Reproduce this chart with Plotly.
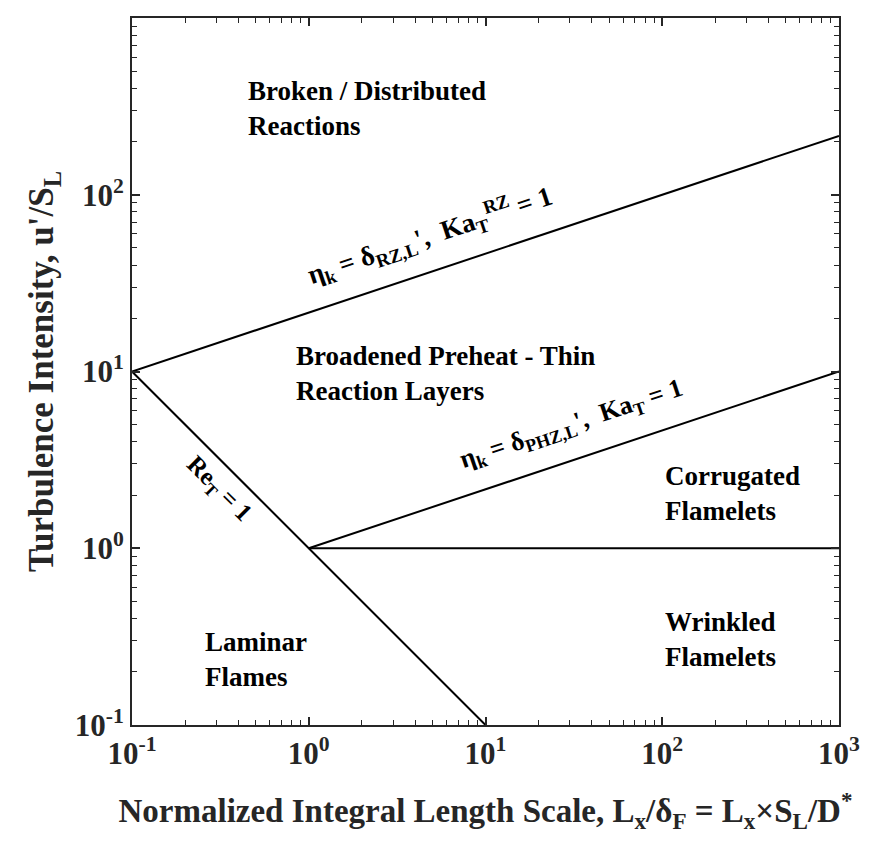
import plotly.graph_objects as go
import math

# Regime boundary lines (x: L_x/delta_F, y: u'/S_L)
re_x = [0.1, 10]
re_y = [10, 0.1]
rz_x = [0.1, 1000]
rz_y = [10, 215.4]
ka_x = [1, 1000]
ka_y = [1, 10]
fl_x = [1, 1000]
fl_y = [1, 1]

tick_vals = [0.1, 1, 10, 100, 1000]
tick_text = ["<b>10<sup>-1</sup></b>", "<b>10<sup>0</sup></b>", "<b>10<sup>1</sup></b>",
             "<b>10<sup>2</sup></b>", "<b>10<sup>3</sup></b>"]

FONT = "Liberation Serif, Times New Roman, serif"
fig = go.Figure()
for xs, ys in [(re_x, re_y), (rz_x, rz_y), (ka_x, ka_y), (fl_x, fl_y)]:
    fig.add_trace(go.Scatter(x=xs, y=ys, mode="lines",
                             line=dict(color="black", width=2), showlegend=False,
                             hoverinfo="skip"))

axis_common = dict(type="log", range=[-1, 3], tickvals=tick_vals, ticktext=tick_text,
                   ticks="inside", ticklen=8, tickwidth=1.5, tickcolor="#262626",
                   showline=True, linecolor="#262626", linewidth=2, mirror="allticks",
                   showgrid=False, zeroline=False,
                   tickfont=dict(family=FONT, size=31, color="#262626"),
                   minor=dict(ticks="inside", ticklen=5, tickwidth=1.2, tickcolor="#262626",
                              dtick="D1", showgrid=False))

fig.update_xaxes(**axis_common,
                 title=dict(text="<b>Normalized Integral Length Scale, L<sub>x</sub>/δ<sub>F</sub> = L<sub>x</sub>×S<sub>L</sub>/D<sup>*</sup></b>",
                            font=dict(family=FONT, size=33, color="#262626"), standoff=29))
fig.update_yaxes(**axis_common,
                 title=dict(text="<b>Turbulence Intensity, u'/S<sub>L</sub></b>",
                            font=dict(family=FONT, size=35, color="#262626"), standoff=10))

def ann(text, x, y, angle=0, size=27, xanchor="left"):
    fig.add_annotation(x=math.log10(x), y=math.log10(y), xref="x", yref="y", text=text,
                       showarrow=False, textangle=angle, xanchor=xanchor, yanchor="middle",
                       align="left", font=dict(family=FONT, size=size, color="black"))

ann("<b>Broken / Distributed<br>Reactions</b>", 0.44, 309)
ann("<b>Broadened Preheat - Thin<br>Reaction Layers</b>", 0.826, 9.69)
ann("<b>Corrugated<br>Flamelets</b>", 101, 2.03)
ann("<b>Wrinkled<br>Flamelets</b>", 101, 0.303)
ann("<b>Laminar<br>Flames</b>", 0.252, 0.236)
ann("<b>η<sub>k</sub> = δ<sub>RZ,L</sub>',  Ka<sub>T</sub><sup>RZ</sup> = 1</b>", 4.85, 59,
    angle=-18.43, xanchor="center", size=27)
ann("<b>η<sub>k</sub> = δ<sub>PHZ,L</sub>',  Ka<sub>T</sub> = 1</b>", 30.5, 4.98,
    angle=-18.43, xanchor="center", size=26)
ann("<b>Re<sub>T</sub> = 1</b>", 0.307, 2.14, angle=45, xanchor="center", size=25)

fig.update_layout(width=875, height=846, margin=dict(l=132, r=36, t=18, b=121),
                  plot_bgcolor="white", paper_bgcolor="white", showlegend=False)
fig.write_html("out.html")
